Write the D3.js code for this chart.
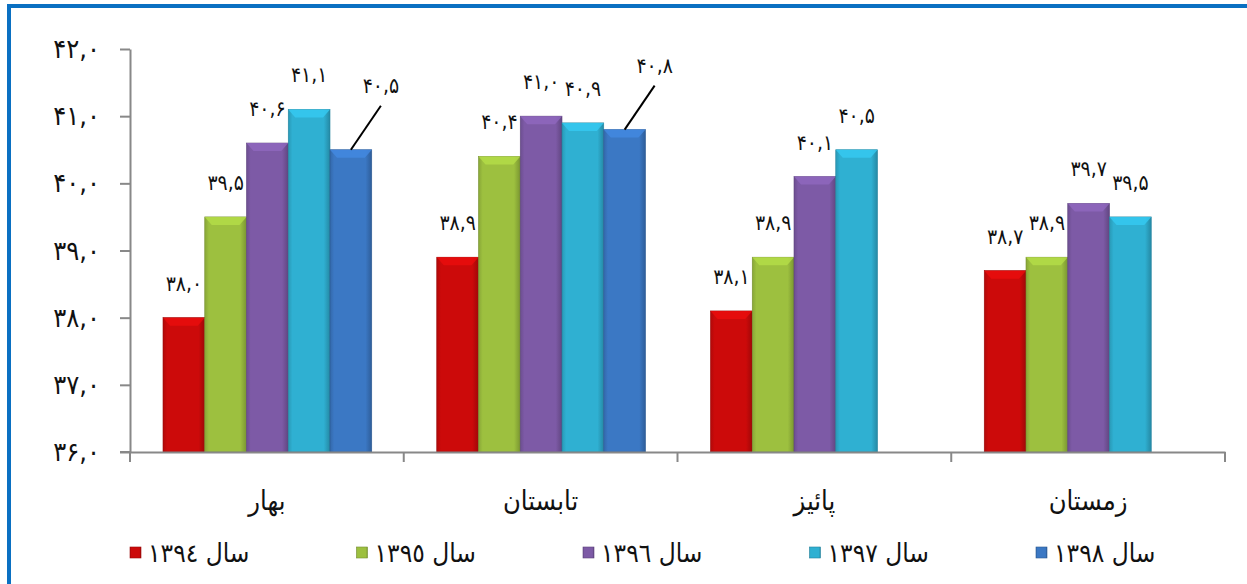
<!DOCTYPE html>
<html>
<head>
<meta charset="utf-8">
<script src="https://cdn.jsdelivr.net/npm/d3@7"></script>
<style>
  body { margin: 0; background: #fff; }
  svg { display: block; font-family: 'DejaVu Sans Condensed', 'DejaVu Sans', sans-serif; }
</style>
</head>
<body>
<div id="graf"></div>
<script>
// datos
const fasles = ['بهار', 'تابستان', 'پائیز', 'زمستان']
const salha = ['سال ١٣٩٤', 'سال ١٣٩٥', 'سال ١٣٩٦', 'سال ١٣٩٧', 'سال ١٣٩٨']
const sal1394 = [38.0, 38.9, 38.1, 38.7]
const sal1395 = [39.5, 40.4, 38.9, 38.9]
const sal1396 = [40.6, 41.0, 40.1, 39.7]
const sal1397 = [41.1, 40.9, 40.5, 39.5]
const sal1398 = [40.5, 40.8, null, null]
const ticksY = [36, 37, 38, 39, 40, 41, 42]

const series = [sal1394, sal1395, sal1396, sal1397, sal1398]
const colores = ['#CC0A0A', '#9DC03F', '#7D5AA6', '#2FB0D2', '#3B78C4']

const W = 1247, H = 584
const margen = { superior: 49, izquierdo: 130, derecho: 22, inferior: 132 }
const ancho = W - margen.izquierdo - margen.derecho
const alto = H - margen.superior - margen.inferior

// numeros persas
const fa = s => s.replace(/\d/g, c => '۰۱۲۳۴۵۶۷۸۹'[+c]).replace('.', ',')
const fmt = v => fa(v.toFixed(1))

const svg = d3.select('#graf').append('svg').attr('width', W).attr('height', H)

// marco azul
svg.append('line').attr('x1', 7).attr('x2', W).attr('y1', 6).attr('y2', 6)
   .attr('stroke', '#0A70C2').attr('stroke-width', 4)
svg.append('line').attr('x1', 9).attr('x2', 9).attr('y1', 4).attr('y2', H)
   .attr('stroke', '#0A70C2').attr('stroke-width', 4)

// gradientes para el efecto bisel
const defs = svg.append('defs')
colores.forEach((c, i) => {
  const g = defs.append('linearGradient').attr('id', 'grad' + i)
  const base = d3.color(c)
  g.append('stop').attr('offset', '0%').attr('stop-color', base.darker(0.4))
  g.append('stop').attr('offset', '10%').attr('stop-color', base)
  g.append('stop').attr('offset', '85%').attr('stop-color', base)
  g.append('stop').attr('offset', '100%').attr('stop-color', base.darker(0.7))
})

const g = svg.append('g').attr('transform', `translate(${margen.izquierdo},${margen.superior})`)

const x0 = d3.scaleBand().domain(fasles).range([0, ancho])
const x1 = d3.scaleBand().domain(d3.range(5)).range([33, x0.bandwidth() - 32])
const y = d3.scaleLinear().domain([36, 42]).range([alto, 0])

// eje Y
const yAxis = g.append('g').call(d3.axisLeft(y).tickValues(ticksY).tickSize(10).tickSizeOuter(0).tickFormat(fmt))
yAxis.select('.domain').attr('stroke', '#888').attr('stroke-width', 2)
yAxis.selectAll('line').attr('stroke', '#888').attr('stroke-width', 2)
yAxis.selectAll('text').attr('x', -30).attr('font-size', 27).attr('fill', '#111')
     .attr('font-family', "'DejaVu Sans Condensed', 'DejaVu Sans', sans-serif")

// barras
const grupos = g.selectAll('g.fasl').data(fasles).enter().append('g')
  .attr('class', 'fasl').attr('transform', d => `translate(${x0(d)},0)`)

const datos = (d, k) => series.map((s, i) => ({ i: i, v: s[k] })).filter(e => e.v !== null)

grupos.each(function(d, k) {
  const gr = d3.select(this)
  const items = datos(d, k)
  items.forEach(e => {
    const bx = x1(e.i), bw = x1.bandwidth(), by = y(e.v), bh = alto - y(e.v)
    gr.append('rect').attr('x', bx).attr('y', by).attr('width', bw).attr('height', bh)
      .attr('fill', `url(#grad${e.i})`).attr('stroke', d3.color(colores[e.i]).darker(0.8))
      .attr('stroke-width', 0.6)
    // bisel superior
    gr.append('polygon')
      .attr('points', [[bx, by], [bx + bw, by], [bx + bw - 7, by + 8], [bx + 7, by + 8]].join(' '))
      .attr('fill', d3.color(colores[e.i]).brighter(0.4)).attr('opacity', 0.8)
    // etiquetas
    let lx = bx + bw / 2, ly = by - 27
    if (e.i === 4) {
      lx = bx + bw / 2 + 30
      ly = by - 57
      gr.append('line').attr('x1', bx + bw / 2).attr('y1', by)
        .attr('x2', bx + bw / 2 + 30).attr('y2', by - 44)
        .attr('stroke', '#000').attr('stroke-width', 2)
    }
    gr.append('text').attr('x', lx).attr('y', ly).attr('text-anchor', 'middle')
      .attr('font-size', 21).attr('fill', '#111').text(fmt(e.v))
  })
})

// eje X
const xAxis = g.append('g').attr('transform', `translate(0,${alto})`)
  .call(d3.axisBottom(x0).tickValues([]).tickSizeOuter(0))
xAxis.select('.domain').attr('stroke', '#888').attr('stroke-width', 2)
g.append('line').attr('x1', -10).attr('x2', 0).attr('y1', alto).attr('y2', alto)
 .attr('stroke', '#888').attr('stroke-width', 2)
g.selectAll('line.sep').data(fasles.concat(['fin'])).enter().append('line').attr('class', 'sep')
  .attr('x1', (d, i) => i * x0.step()).attr('x2', (d, i) => i * x0.step())
  .attr('y1', alto).attr('y2', alto + 10).attr('stroke', '#888').attr('stroke-width', 2)
g.selectAll('text.cat').data(fasles).enter().append('text').attr('class', 'cat')
  .attr('x', d => x0(d) + x0.bandwidth() / 2).attr('y', alto + 58)
  .attr('text-anchor', 'middle').attr('font-size', 27).attr('fill', '#111').text(d => d)

// leyenda
const ley = svg.append('g').attr('transform', `translate(130,${H - 31})`)
const item = ley.selectAll('g').data(salha).enter().append('g')
  .attr('transform', (d, i) => `translate(${i * 226.5},0)`)
item.append('rect').attr('x', 0).attr('y', -6).attr('width', 11).attr('height', 11)
  .attr('fill', (d, i) => `url(#grad${i})`).attr('stroke', (d, i) => d3.color(colores[i]).darker(0.8))
  .attr('stroke-width', 0.6)
item.append('text').attr('x', 18).attr('y', 9).attr('font-size', 26).attr('fill', '#111').text(d => d)
</script>
</body>
</html>
